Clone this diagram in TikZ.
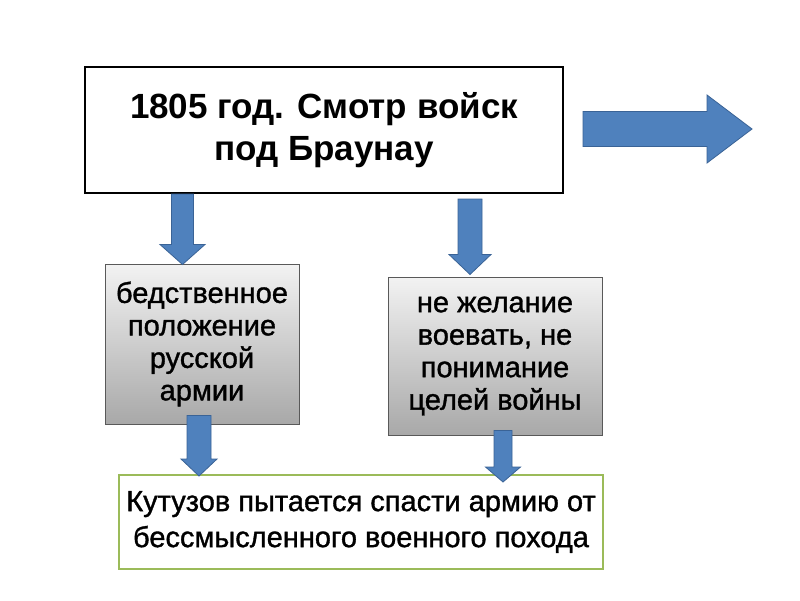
\documentclass[tikz,border=0pt]{standalone}
\usepackage{fontspec}
\setmainfont{Liberation Sans}
\newfontfamily\medfont[FakeBold=1.2]{Liberation Sans}
\usetikzlibrary{calc}
\definecolor{ablue}{HTML}{4F81BD}
\definecolor{ablueline}{HTML}{3A6396}
\definecolor{agreen}{HTML}{9BBB59}
\tikzset{
  topbox/.style={draw=black, line width=2pt, fill=white, minimum width=478pt, minimum height=126pt,
    align=center, font=\fontsize{35}{42}\selectfont\bfseries, inner sep=0pt},
  graybox/.style={draw=black!65, line width=1pt, top color=black!5, bottom color=black!34,
    align=center, font=\medfont\fontsize{29}{32.5}\selectfont, inner sep=0pt},
  greenbox/.style={draw=agreen, line width=2pt, fill=white, minimum width=484pt, minimum height=94pt,
    align=center, font=\medfont\fontsize{29}{36}\selectfont, inner sep=0pt},
  vblock/.style n args={3}{fill=ablue, draw=ablueline, line width=0.8pt,
    to path={let \p1=(\tikztostart), \p2=(\tikztotarget) in
      ({\x1-#1},\y1) -- ({\x1+#1},\y1) -- ({\x1+#1},{\y2+#3}) -- ({\x1+#2},{\y2+#3})
      -- (\x1,\y2) -- ({\x1-#2},{\y2+#3}) -- ({\x1-#1},{\y2+#3}) -- cycle}},
  hblock/.style n args={3}{fill=ablue, draw=ablueline, line width=0.8pt,
    to path={let \p1=(\tikztostart), \p2=(\tikztotarget) in
      (\x1,{\y1+#1}) -- ({\x2-#3},{\y1+#1}) -- ({\x2-#3},{\y1+#2}) -- (\x2,\y1)
      -- ({\x2-#3},{\y1-#2}) -- ({\x2-#3},{\y1-#1}) -- (\x1,{\y1-#1}) -- cycle}},
}
\begin{document}
\begin{tikzpicture}[x=1pt,y=-1pt]
\useasboundingbox (0,0) rectangle (800,600);
\fill[white] (0,0) rectangle (800,600);

\node[topbox] (top) at (324,130) {1805 год. Смотр войск\\под Браунау};
\node[graybox, minimum width=194pt, minimum height=160pt] (left) at (202,344)
  {бедственное\\положение\\русской\\армии};
\node[graybox, minimum width=214pt, minimum height=158pt] (right) at (495,356)
  {не желание\\воевать, не\\понимание\\целей войны};
\node[greenbox] (green) at (361,522)
  {Кутузов пытается спасти армию от\\бессмысленного военного похода};

\coordinate (farright) at (752,129);

\draw[hblock={17.5pt}{34pt}{45pt}] ([xshift=19pt,yshift=1pt]top.east) to (farright);
\draw[vblock={11pt}{22.5pt}{20pt}] ([xshift=-141.5pt]top.south) to ([xshift=-19.5pt,yshift=-1pt]left.north);
\draw[vblock={12pt}{21pt}{20pt}] ([xshift=146pt,yshift=-5pt]top.south) to ([xshift=-25pt,yshift=2pt]right.north);
\draw[vblock={12pt}{18pt}{17pt}] ([xshift=-3pt,yshift=9pt]left.south) to ([xshift=-162pt,yshift=-2pt]green.north);
\draw[vblock={9pt}{17.5pt}{15pt}] ([xshift=8pt,yshift=5pt]right.south) to ([xshift=142pt,yshift=-8pt]green.north);
\end{tikzpicture}
\end{document}
